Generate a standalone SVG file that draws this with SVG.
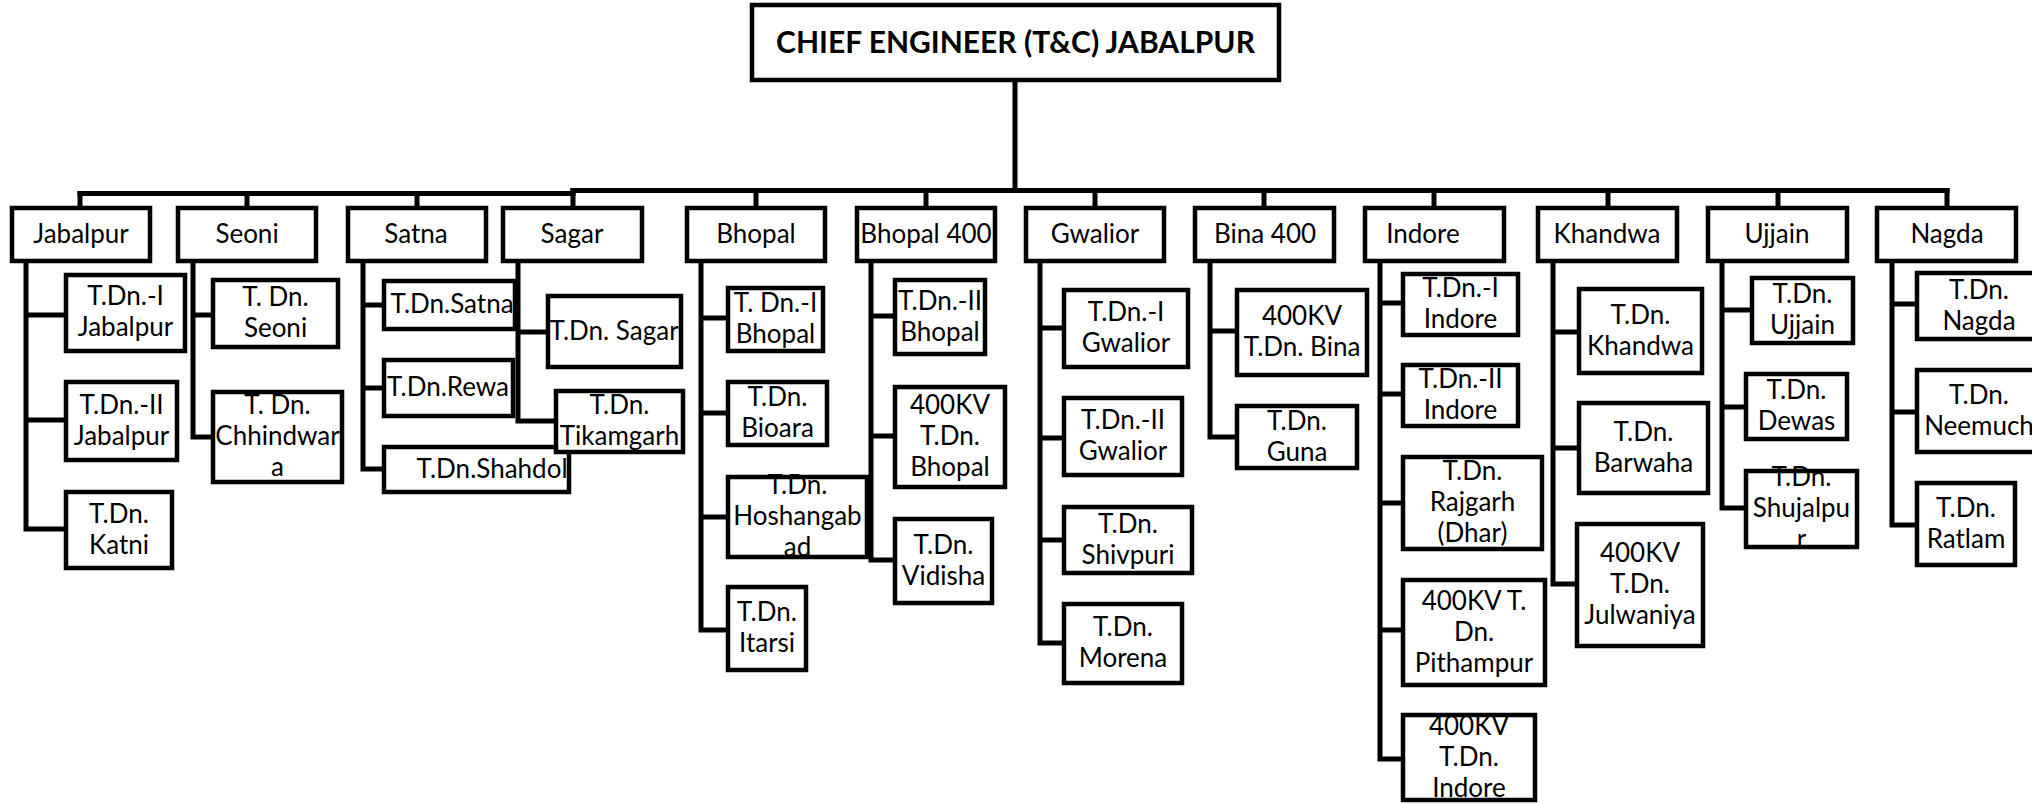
<svg xmlns="http://www.w3.org/2000/svg" width="2032" height="804" viewBox="0 0 2032 804">
<style>
.box{fill:#fff;stroke:#000;stroke-width:4.5}
.ln{fill:none;stroke:#000;stroke-width:5;stroke-linecap:square}
text{font-family:Lato,"Liberation Sans",sans-serif;font-size:26px;text-anchor:middle;fill:#000}
.ce{font-weight:bold;font-size:30px}
</style>
<rect width="2032" height="804" fill="#fff"/>
<g id="connectors">
<path class="ln" d="M1015 80 V190.5 M80 193.5 H573 M573 190.5 H1947"/>
<path class="ln" d="M80 193.5 V208 M247 193.5 V208 M417 193.5 V208 M573 190.5 V208 M756 190.5 V208 M926 190.5 V208 M1095 190.5 V208 M1264 190.5 V208 M1434 190.5 V208 M1608 190.5 V208 M1778 190.5 V208 M1947 190.5 V208"/>
<path class="ln" d="M26 261 V529 M26 315 H66 M26 420 H66 M26 529 H66"/>
<path class="ln" d="M193 261 V437 M193 315 H213 M193 437 H213"/>
<path class="ln" d="M363 261 V469 M363 305 H384 M363 388 H384 M363 469 H384"/>
<path class="ln" d="M518 261 V421 M518 332 H548 M518 421 H556"/>
<path class="ln" d="M701 261 V630 M701 318 H728 M701 413 H728 M701 517 H728 M701 630 H728"/>
<path class="ln" d="M871 261 V560 M871 316 H895 M871 436 H895 M871 560 H895"/>
<path class="ln" d="M1040 261 V643 M1040 328 H1064 M1040 438 H1064 M1040 540 H1064 M1040 643 H1064"/>
<path class="ln" d="M1210 261 V437 M1210 331 H1237 M1210 437 H1237"/>
<path class="ln" d="M1380 261 V759 M1380 303 H1403 M1380 394 H1403 M1380 503 H1403 M1380 630 H1403 M1380 759 H1403"/>
<path class="ln" d="M1553 261 V584 M1553 332 H1579 M1553 448 H1579 M1553 584 H1577"/>
<path class="ln" d="M1722 261 V508 M1722 310 H1752 M1722 407 H1746 M1722 508 H1746"/>
<path class="ln" d="M1892 261 V525 M1892 304 H1917 M1892 412 H1917 M1892 525 H1917"/>
</g>
<g id="ce"><rect class="box" x="752" y="5" width="527" height="75"/><text class="ce" x="1015.5" y="53">CHIEF ENGINEER (T&amp;C) JABALPUR</text></g>
<g id="jabalpur"><rect class="box" x="12" y="208" width="138" height="53"/><text x="81" y="242.5">Jabalpur</text></g>
<g id="seoni"><rect class="box" x="178" y="208" width="138" height="53"/><text x="247" y="242.5">Seoni</text></g>
<g id="satna"><rect class="box" x="348" y="208" width="138" height="53"/><text x="416" y="242.5">Satna</text></g>
<g id="sagar"><rect class="box" x="503" y="208" width="139" height="53"/><text x="572" y="242.5">Sagar</text></g>
<g id="bhopal"><rect class="box" x="687" y="208" width="138" height="53"/><text x="756" y="242.5">Bhopal</text></g>
<g id="bhopal400"><rect class="box" x="857" y="208" width="138" height="53"/><text x="926" y="242.5">Bhopal 400</text></g>
<g id="gwalior"><rect class="box" x="1026" y="208" width="138" height="53"/><text x="1095" y="242.5">Gwalior</text></g>
<g id="bina400"><rect class="box" x="1195" y="208" width="139" height="53"/><text x="1265" y="242.5">Bina 400</text></g>
<g id="indore"><rect class="box" x="1365" y="208" width="139" height="53"/><text x="1423" y="242.5">Indore</text></g>
<g id="khandwa"><rect class="box" x="1538" y="208" width="139" height="53"/><text x="1607" y="242.5">Khandwa</text></g>
<g id="ujjain"><rect class="box" x="1708" y="208" width="139" height="53"/><text x="1777" y="242.5">Ujjain</text></g>
<g id="nagda"><rect class="box" x="1877" y="208" width="139" height="53"/><text x="1947" y="242.5">Nagda</text></g>

<g id="tdn1-jabalpur"><rect class="box" x="66" y="275" width="119" height="76"/><text x="125.5" y="305">T.Dn.-I</text><text x="125.5" y="336">Jabalpur</text></g>
<g id="tdn2-jabalpur"><rect class="box" x="66" y="382" width="111" height="78"/><text x="121.5" y="413.5">T.Dn.-II</text><text x="121.5" y="444.5">Jabalpur</text></g>
<g id="tdn-katni"><rect class="box" x="66" y="492" width="106" height="76"/><text x="119" y="522.5">T.Dn.</text><text x="119" y="553.5">Katni</text></g>
<g id="tdn-seoni"><rect class="box" x="213" y="280" width="125" height="67"/><text x="275.5" y="306">T. Dn.</text><text x="275.5" y="337">Seoni</text></g>
<g id="tdn-chhindwara"><rect class="box" x="213" y="392" width="129" height="90"/><text x="277.5" y="414">T. Dn.</text><text x="277.5" y="445">Chhindwar</text><text x="277.5" y="476">a</text></g>
<g id="tdn-satna"><rect class="box" x="384" y="281" width="131" height="48"/><text x="452" y="313">T.Dn.Satna</text></g>
<g id="tdn-rewa"><rect class="box" x="384" y="360" width="129" height="56"/><text x="448" y="396">T.Dn.Rewa</text></g>
<g id="tdn-shahdol"><rect class="box" x="384" y="447" width="185" height="45"/><text x="492" y="477.5">T.Dn.Shahdol</text></g>
<g id="tdn-sagar"><rect class="box" x="548" y="296" width="133" height="71"/><text x="614" y="339.5">T.Dn. Sagar</text></g>
<g id="tdn-tikamgarh"><rect class="box" x="556" y="391" width="127" height="61"/><text x="619.5" y="414">T.Dn.</text><text x="619.5" y="445">Tikamgarh</text></g>
<g id="tdn1-bhopal"><rect class="box" x="728" y="288" width="95" height="63"/><text x="775.5" y="312">T. Dn.-I</text><text x="775.5" y="343">Bhopal</text></g>
<g id="tdn-bioara"><rect class="box" x="728" y="382" width="99" height="63"/><text x="777.5" y="406">T.Dn.</text><text x="777.5" y="437">Bioara</text></g>
<g id="tdn-hoshangabad"><rect class="box" x="728" y="477" width="139" height="80"/><text x="797.5" y="494">T.Dn.</text><text x="797.5" y="525">Hoshangab</text><text x="797.5" y="556">ad</text></g>
<g id="tdn-itarsi"><rect class="box" x="728" y="587" width="78" height="83"/><text x="767" y="621">T.Dn.</text><text x="767" y="652">Itarsi</text></g>
<g id="tdn2-bhopal"><rect class="box" x="895" y="280" width="90" height="74"/><text x="940" y="309.5">T.Dn.-II</text><text x="940" y="340.5">Bhopal</text></g>
<g id="tdn400-bhopal"><rect class="box" x="895" y="387" width="110" height="100"/><text x="950" y="414">400KV</text><text x="950" y="445">T.Dn.</text><text x="950" y="476">Bhopal</text></g>
<g id="tdn-vidisha"><rect class="box" x="895" y="519" width="97" height="84"/><text x="943.5" y="553.5">T.Dn.</text><text x="943.5" y="584.5">Vidisha</text></g>
<g id="tdn1-gwalior"><rect class="box" x="1064" y="290" width="124" height="77"/><text x="1126" y="321">T.Dn.-I</text><text x="1126" y="352">Gwalior</text></g>
<g id="tdn2-gwalior"><rect class="box" x="1064" y="398" width="118" height="77"/><text x="1123" y="429">T.Dn.-II</text><text x="1123" y="460">Gwalior</text></g>
<g id="tdn-shivpuri"><rect class="box" x="1064" y="507" width="128" height="66"/><text x="1128" y="532.5">T.Dn.</text><text x="1128" y="563.5">Shivpuri</text></g>
<g id="tdn-morena"><rect class="box" x="1064" y="604" width="118" height="79"/><text x="1123" y="636">T.Dn.</text><text x="1123" y="667">Morena</text></g>
<g id="tdn400-bina"><rect class="box" x="1237" y="290" width="130" height="85"/><text x="1302" y="325">400KV</text><text x="1302" y="356">T.Dn. Bina</text></g>
<g id="tdn-guna"><rect class="box" x="1237" y="406" width="120" height="62"/><text x="1297" y="429.5">T.Dn.</text><text x="1297" y="460.5">Guna</text></g>
<g id="tdn1-indore"><rect class="box" x="1403" y="274" width="115" height="61"/><text x="1460.5" y="297">T.Dn.-I</text><text x="1460.5" y="328">Indore</text></g>
<g id="tdn2-indore"><rect class="box" x="1403" y="365" width="115" height="61"/><text x="1460.5" y="388">T.Dn.-II</text><text x="1460.5" y="419">Indore</text></g>
<g id="tdn-rajgarh"><rect class="box" x="1403" y="457" width="139" height="92"/><text x="1472.5" y="480">T.Dn.</text><text x="1472.5" y="511">Rajgarh</text><text x="1472.5" y="542">(Dhar)</text></g>
<g id="tdn400-pithampur"><rect class="box" x="1403" y="580" width="142" height="105"/><text x="1474" y="609.5">400KV T.</text><text x="1474" y="640.5">Dn.</text><text x="1474" y="671.5">Pithampur</text></g>
<g id="tdn400-indore"><rect class="box" x="1403" y="715" width="132" height="85"/><text x="1469" y="734.5">400KV</text><text x="1469" y="765.5">T.Dn.</text><text x="1469" y="796.5">Indore</text></g>
<g id="tdn-khandwa"><rect class="box" x="1579" y="289" width="123" height="84"/><text x="1640.5" y="323.5">T.Dn.</text><text x="1640.5" y="354.5">Khandwa</text></g>
<g id="tdn-barwaha"><rect class="box" x="1579" y="403" width="129" height="90"/><text x="1643.5" y="440.5">T.Dn.</text><text x="1643.5" y="471.5">Barwaha</text></g>
<g id="tdn400-julwaniya"><rect class="box" x="1577" y="524" width="126" height="122"/><text x="1640" y="562">400KV</text><text x="1640" y="593">T.Dn.</text><text x="1640" y="624">Julwaniya</text></g>
<g id="tdn-ujjain"><rect class="box" x="1752" y="278" width="101" height="65"/><text x="1802.5" y="303">T.Dn.</text><text x="1802.5" y="334">Ujjain</text></g>
<g id="tdn-dewas"><rect class="box" x="1746" y="374" width="101" height="65"/><text x="1796.5" y="399">T.Dn.</text><text x="1796.5" y="430">Dewas</text></g>
<g id="tdn-shujalpur"><rect class="box" x="1746" y="471" width="111" height="76"/><text x="1801.5" y="486">T.Dn.</text><text x="1801.5" y="517">Shujalpu</text><text x="1801.5" y="548">r</text></g>
<g id="tdn-nagda"><rect class="box" x="1917" y="273" width="124" height="66"/><text x="1979" y="298.5">T.Dn.</text><text x="1979" y="329.5">Nagda</text></g>
<g id="tdn-neemuch"><rect class="box" x="1917" y="370" width="124" height="82"/><text x="1979" y="403.5">T.Dn.</text><text x="1979" y="434.5">Neemuch</text></g>
<g id="tdn-ratlam"><rect class="box" x="1917" y="483" width="98" height="82"/><text x="1966" y="516.5">T.Dn.</text><text x="1966" y="547.5">Ratlam</text></g>
</svg>
